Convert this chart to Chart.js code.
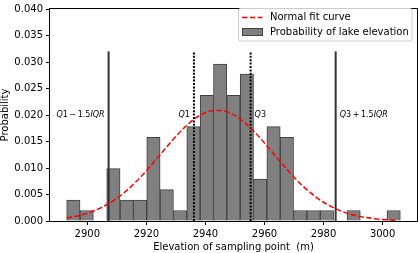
<!DOCTYPE html>
<html>
<head>
<meta charset="utf-8">
<script src="https://cdn.jsdelivr.net/npm/chart.js@4"></script>
<style>
  body { margin: 0; background: #fff; }
  canvas { display: block; }
</style>
</head>
<body>
<canvas id="grafico" width="418" height="253"></canvas>
<script>
// histogram bins (centre of each bin) and density
const binCenters = [2895.26, 2899.78, 2904.30, 2908.82, 2913.34, 2917.86, 2922.38, 2926.90, 2931.42,
  2935.94, 2940.46, 2944.98, 2949.50, 2954.02, 2958.54, 2963.06, 2967.58, 2972.10, 2976.62,
  2981.14, 2985.66, 2990.18, 2994.70, 2999.22, 3003.74];
const binDensity = [0.00395, 0.00198, 0, 0.00988, 0.00395, 0.00395, 0.0158, 0.00593, 0.00198,
  0.0178, 0.0237, 0.0296, 0.0237, 0.0277, 0.0079, 0.0178, 0.0158, 0.00198, 0.00198,
  0.00198, 0, 0.00198, 0, 0, 0.00198];

// normal fit curve
const curveX = [2893, 2897, 2901, 2905, 2909, 2913, 2917, 2921, 2925, 2929, 2933, 2937, 2941, 2945,
  2949, 2953, 2957, 2961, 2965, 2969, 2973, 2977, 2981, 2985, 2989, 2993, 2997, 3001, 3005];
const curveY = [0.00059, 0.00101, 0.00166, 0.00260, 0.00390, 0.00560, 0.00769, 0.01012, 0.01274,
  0.01535, 0.01771, 0.01954, 0.02064, 0.02087, 0.02020, 0.01870, 0.01658, 0.01406, 0.01142,
  0.00887, 0.00660, 0.00470, 0.00320, 0.00209, 0.00130, 0.00078, 0.00045, 0.00024, 0.00013];

// quartile markers
const markerNames = ['Q1 - 1.5IQR', 'Q1', 'Q3', 'Q3 + 1.5IQR'];
const markerX = [2907.2, 2936.1, 2955.3, 2984.1];
const markerTop = 0.032;
const noteY = 0.02;

const xTicks = [2900, 2920, 2940, 2960, 2980, 3000];
const yTicks = [0, 0.005, 0.010, 0.015, 0.020, 0.025, 0.030, 0.035, 0.040];

const fonte = 'DejaVu Sans';

function linhaVertical(x, solid) {
  return {
    type: 'line',
    data: [{x: x, y: 0}, {x: x, y: markerTop}],
    borderColor: solid ? '#333333' : '#000000',
    borderWidth: 2,
    borderDash: solid ? [] : [2, 1.4],
    pointRadius: 0,
    order: 0
  };
}

// runs of text: [texto, italico]
const notas = [
  {runs: [['Q', true], ['1', false], ['\u2009\u2212\u2009', false], ['1.5', false], ['IQR', true]], side: -1},
  {runs: [['Q', true], ['1', false]], side: -1},
  {runs: [['Q', true], ['3', false]], side: 1},
  {runs: [['Q', true], ['3', false], ['\u2009+\u2009', false], ['1.5', false], ['IQR', true]], side: 1}
];

const extras = {
  id: 'extras',
  afterDatasetsDraw(chart) {
    const ctx = chart.ctx;
    const a = chart.chartArea;
    const xs = chart.scales.x, ys = chart.scales.y;
    ctx.save();
    // frame
    ctx.strokeStyle = '#000';
    ctx.lineWidth = 1;
    ctx.strokeRect(Math.round(a.left) - 0.5, Math.round(a.top) - 0.5,
      Math.round(a.right - a.left) + 1, Math.round(a.bottom - a.top) + 1);

    // notes
    ctx.fillStyle = '#000';
    ctx.textBaseline = 'alphabetic';
    const base = ys.getPixelForValue(noteY) + 1.5;
    notas.forEach((n, i) => {
      const px = xs.getPixelForValue(markerX[i]);
      let w = 0;
      n.runs.forEach(r => {
        ctx.font = (r[1] ? 'italic ' : '') + '8px "' + fonte + '"';
        w += ctx.measureText(r[0]).width;
      });
      let cx = n.side < 0 ? px - 4 - w : px + 4;
      n.runs.forEach(r => {
        ctx.font = (r[1] ? 'italic ' : '') + '8px "' + fonte + '"';
        ctx.fillText(r[0], cx, base);
        cx += ctx.measureText(r[0]).width;
      });
    });

    // legend
    ctx.beginPath();
    ctx.roundRect(238.5, 8.5, 173.5, 32.5, 2);
    ctx.fillStyle = 'rgba(255,255,255,0.8)';
    ctx.fill();
    ctx.strokeStyle = '#cccccc';
    ctx.stroke();

    ctx.beginPath();
    ctx.setLineDash([5.5, 2.4]);
    ctx.strokeStyle = 'red';
    ctx.lineWidth = 1.5;
    ctx.moveTo(242, 17.5);
    ctx.lineTo(262.5, 17.5);
    ctx.stroke();
    ctx.setLineDash([]);

    ctx.fillStyle = '#808080';
    ctx.fillRect(242.5, 28.5, 20, 7);
    ctx.strokeStyle = '#404040';
    ctx.lineWidth = 1;
    ctx.strokeRect(242.5, 28.5, 20, 7);

    ctx.fillStyle = '#000';
    ctx.font = '10px "' + fonte + '"';
    ctx.textBaseline = 'middle';
    ctx.fillText('Normal fit curve', 270, 17.5);
    ctx.fillText('Probability of lake elevation', 270, 32);
    ctx.restore();
  }
};

const ctxHist = document.getElementById('grafico').getContext('2d');
const grafico = new Chart(ctxHist, {
  type: 'bar',
  data: {
    datasets: [
      {
        type: 'line',
        label: 'Normal fit curve',
        data: curveX.map((x, i) => ({x: x, y: curveY[i]})),
        borderColor: 'red',
        borderWidth: 1.5,
        borderDash: [5.5, 2.4],
        pointRadius: 0,
        cubicInterpolationMode: 'monotone',
        order: 0
      },
      linhaVertical(markerX[0], true),
      linhaVertical(markerX[1], false),
      linhaVertical(markerX[2], false),
      linhaVertical(markerX[3], true),
      {
        type: 'bar',
        label: 'Probability of lake elevation',
        data: binCenters.map((x, i) => ({x: x, y: binDensity[i]})),
        backgroundColor: '#808080',
        borderColor: '#404040',
        borderWidth: 1,
        barPercentage: 1,
        categoryPercentage: 1,
        order: 5
      }
    ]
  },
  options: {
    responsive: false,
    animation: false,
    devicePixelRatio: 1,
    layout: { padding: { top: 4, right: 1, left: 0, bottom: 0 } },
    plugins: {
      legend: { display: false },
      tooltip: { enabled: false }
    },
    scales: {
      x: {
        type: 'linear',
        min: 2887.35,
        max: 3011.65,
        offset: false,
        afterFit(s) { s.height = 32; },
        afterBuildTicks(s) { s.ticks = xTicks.map(v => ({value: v})); },
        grid: { display: true, drawOnChartArea: false, tickLength: 4, color: '#000', offset: false },
        border: { display: false },
        ticks: {
          color: '#000',
          font: { family: fonte, size: 10 },
          padding: 3,
          maxRotation: 0,
          callback: v => String(v)
        },
        title: {
          display: true,
          text: 'Elevation of sampling point  (m)',
          color: '#000',
          font: { family: fonte, size: 10 },
          padding: { top: 0, bottom: 0 }
        }
      },
      y: {
        min: 0,
        max: 0.04,
        afterFit(s) { s.width = 50; },
        afterBuildTicks(s) { s.ticks = yTicks.map(v => ({value: v})); },
        grid: { display: true, drawOnChartArea: false, tickLength: 4, color: '#000' },
        border: { display: false },
        ticks: {
          color: '#000',
          font: { family: fonte, size: 10 },
          padding: 3,
          callback: v => v.toFixed(3)
        },
        title: {
          display: true,
          text: 'Probability',
          color: '#000',
          font: { family: fonte, size: 10, lineHeight: 1 },
          padding: { top: 0, bottom: 0 }
        }
      }
    }
  },
  plugins: [extras]
});
</script>
</body>
</html>
